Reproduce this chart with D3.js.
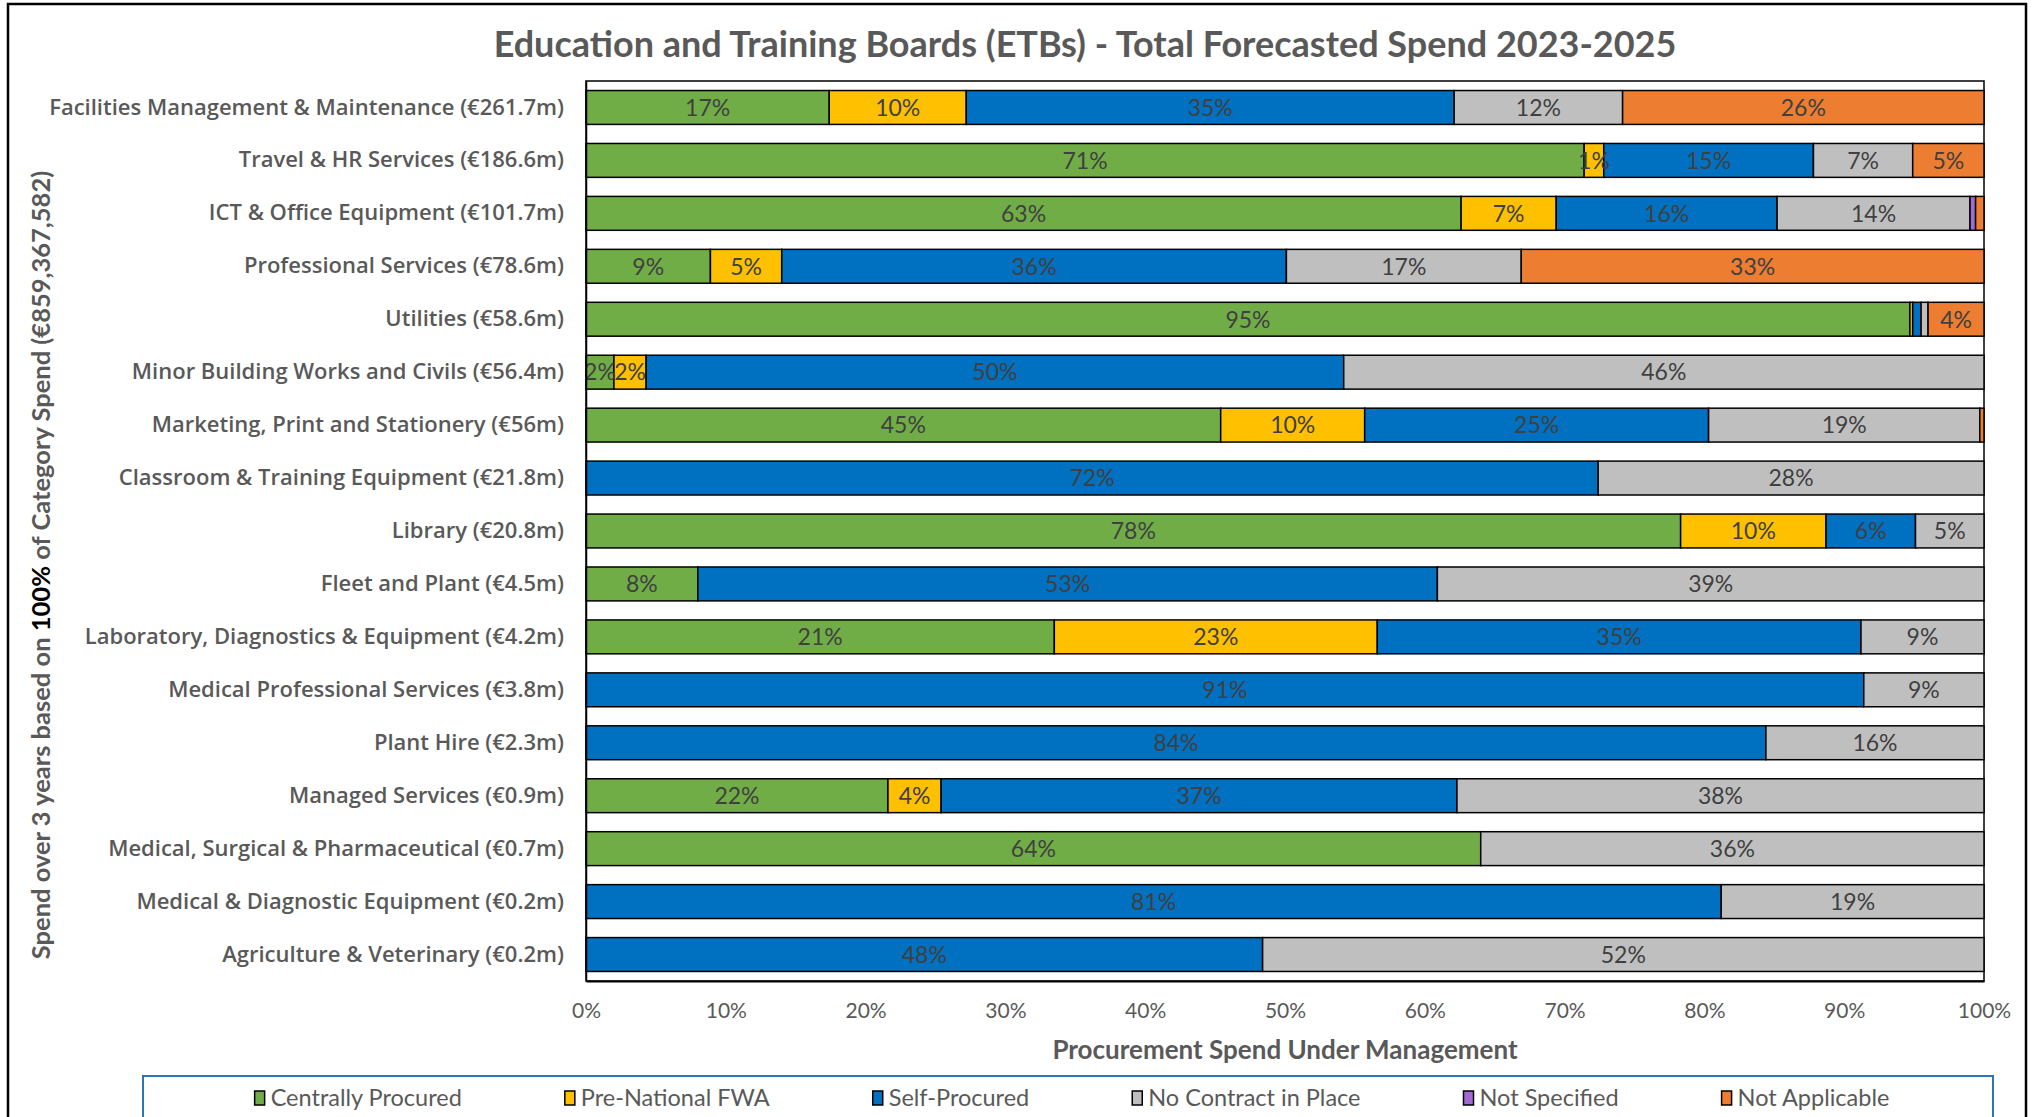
<!DOCTYPE html>
<html><head><meta charset="utf-8">
<script src="https://cdn.jsdelivr.net/npm/d3@7"></script>
<style>body{margin:0;background:#fff} svg{display:block}</style>
</head><body>
<svg id="chart" width="2033" height="1117"></svg>
<script>
// ---------- DATA ----------
const categories = [
  "Facilities Management & Maintenance (€261.7m)",
  "Travel & HR Services (€186.6m)",
  "ICT & Office Equipment (€101.7m)",
  "Professional Services (€78.6m)",
  "Utilities (€58.6m)",
  "Minor Building Works and Civils (€56.4m)",
  "Marketing, Print and Stationery (€56m)",
  "Classroom & Training Equipment (€21.8m)",
  "Library (€20.8m)",
  "Fleet and Plant (€4.5m)",
  "Laboratory, Diagnostics & Equipment (€4.2m)",
  "Medical Professional Services (€3.8m)",
  "Plant Hire (€2.3m)",
  "Managed Services (€0.9m)",
  "Medical, Surgical & Pharmaceutical (€0.7m)",
  "Medical & Diagnostic Equipment (€0.2m)",
  "Agriculture & Veterinary (€0.2m)"
];
const seriesNames = ["Centrally Procured","Pre-National FWA","Self-Procured","No Contract in Place","Not Specified","Not Applicable"];
const centrallyProcured = [17.4, 71.4, 62.6,  8.9, 94.7,  2.0, 45.4,  0.0, 78.3,  8.0, 33.5,  0.0,  0.0, 21.6, 64.0,  0.0,  0.0];
const preNationalFWA    = [ 9.8,  1.4,  6.8,  5.1,  0.2,  2.3, 10.3,  0.0, 10.4,  0.0, 23.1,  0.0,  0.0,  3.8,  0.0,  0.0,  0.0];
const selfProcured      = [34.9, 15.0, 15.8, 36.1,  0.6, 49.9, 24.6, 72.4,  6.4, 52.9, 34.6, 91.4, 84.4, 36.9,  0.0, 81.2, 48.4];
const noContractInPlace = [12.05, 7.1, 13.8, 16.8,  0.5, 45.8, 19.4, 27.6,  4.9, 39.1,  8.8,  8.6, 15.6, 37.7, 36.0, 18.8, 51.6];
const notSpecified      = [ 0.0,  0.0,  0.4,  0.0,  0.0,  0.0,  0.0,  0.0,  0.0,  0.0,  0.0,  0.0,  0.0,  0.0,  0.0,  0.0,  0.0];
const notApplicable     = [25.85, 5.1,  0.6, 33.1,  4.0,  0.0,  0.3,  0.0,  0.0,  0.0,  0.0,  0.0,  0.0,  0.0,  0.0,  0.0,  0.0];
const xTicks = [0,10,20,30,40,50,60,70,80,90,100];
// data label printed in the source that differs from the bar length
const labelOverrides = [{category: "Laboratory, Diagnostics & Equipment (€4.2m)", series: "Centrally Procured", text: "21%"}];

const seriesValues = [centrallyProcured, preNationalFWA, selfProcured, noContractInPlace, notSpecified, notApplicable];
const colors = ["#70AD47","#FFC000","#0070C0","#BFBFBF","#A16BD3","#ED7D31"];

const rows = categories.map((c,i)=>{
  const r = {category:c};
  seriesNames.forEach((s,j)=> r[s] = seriesValues[j][i]);
  return r;
});

// ---------- LAYOUT ----------
const svg = d3.select("#chart");
const plot = {left:586, right:1984, top:81, bottom:981};
const grey = "#595959";
const fontMain = "Lato, 'Open Sans', sans-serif";

// outer chart border
svg.append("rect").attr("x",8).attr("y",4).attr("width",2018).attr("height",1200)
  .attr("fill","#fff").attr("stroke","#000").attr("stroke-width",2.5);

const x = d3.scaleLinear().domain([0,100]).range([plot.left, plot.right]);
const y = d3.scaleBand().domain(categories).range([plot.top, plot.bottom]).paddingInner(0.36).paddingOuter(0.18);

// plot border
svg.append("rect").attr("x",plot.left).attr("y",plot.top).attr("width",plot.right-plot.left).attr("height",plot.bottom-plot.top)
  .attr("fill","none").attr("stroke","#000").attr("stroke-width",1.5);

// title
svg.append("text").attr("x",1085).attr("y",57).attr("text-anchor","middle")
  .attr("font-family",fontMain).attr("font-weight",700).attr("font-size",36).attr("fill",grey)
  .text("Education and Training Boards (ETBs) - Total Forecasted Spend 2023-2025");

// stacked bars
const stack = d3.stack().keys(seriesNames)(rows);
const g = svg.append("g");
stack.forEach((layer,j)=>{
  g.append("g").selectAll("rect").data(layer.filter(d=>d[1]-d[0]>0)).join("rect")
    .attr("x",d=>x(d[0])).attr("y",d=>y(d.data.category))
    .attr("width",d=>x(d[1])-x(d[0])).attr("height",y.bandwidth())
    .attr("fill",colors[j]).attr("stroke","#000").attr("stroke-width",1.5);
});
// data labels
stack.forEach((layer,j)=>{
  g.append("g").selectAll("text").data(layer.filter(d=>d[1]-d[0]>=1)).join("text")
    .attr("x",d=>(x(d[0])+x(d[1]))/2).attr("y",d=>y(d.data.category)+y.bandwidth()/2)
    .attr("dy","0.36em").attr("text-anchor","middle")
    .attr("font-family",fontMain).attr("font-size",23).attr("fill","#404040")
    .text(d=>{
      const o = labelOverrides.find(o=>o.category===d.data.category && o.series===layer.key);
      return o ? o.text : Math.round(d[1]-d[0])+"%";
    });
});

// y axis (category labels)
const yAxis = svg.append("g").attr("transform",`translate(${plot.left},0)`)
  .call(d3.axisLeft(y).tickSize(0).tickPadding(22));
yAxis.select(".domain").attr("stroke","#000").attr("stroke-width",1.5);
yAxis.selectAll("text").attr("font-family","'Open Sans', sans-serif").attr("font-weight",600).attr("font-size",22).attr("fill",grey);

// x axis
const xAxis = svg.append("g").attr("transform",`translate(0,${plot.bottom})`)
  .call(d3.axisBottom(x).tickValues(xTicks).tickFormat(d=>d+"%").tickSize(0).tickPadding(22));
xAxis.select(".domain").attr("stroke","#000").attr("stroke-width",2);
xAxis.selectAll("text").attr("font-family",fontMain).attr("font-size",21).attr("fill",grey);

// axis titles
svg.append("text").attr("x",(plot.left+plot.right)/2).attr("y",1059).attr("text-anchor","middle")
  .attr("font-family",fontMain).attr("font-weight",700).attr("font-size",26).attr("fill",grey)
  .text("Procurement Spend Under Management");

const yt = svg.append("text").attr("transform","translate(50,565) rotate(-90)").attr("text-anchor","middle")
  .attr("font-family",fontMain).attr("font-weight",700).attr("font-size",25.5).attr("fill",grey);
yt.append("tspan").text("Spend over 3 years based on ");
yt.append("tspan").attr("fill","#000").text("100%");
yt.append("tspan").text(" of Category Spend (€859,367,582)");

// legend
svg.append("rect").attr("x",143).attr("y",1076).attr("width",1850).attr("height",80)
  .attr("fill","#fff").attr("stroke","#2E75B6").attr("stroke-width",2);
const lg = svg.append("g");
const items = lg.selectAll("g").data(seriesNames).join("g");
items.append("rect").attr("x",0).attr("y",-7).attr("width",10).attr("height",14)
  .attr("fill",(d,i)=>colors[i]).attr("stroke","#000").attr("stroke-width",1.5);
items.append("text").attr("x",16).attr("y",0).attr("dy","0.36em")
  .attr("font-family",fontMain).attr("font-size",23.5).attr("fill",grey).text(d=>d);
const widths = [];
items.each(function(){ widths.push(16 + this.querySelector("text").getComputedTextLength()); });
const gap = 103;
const total = d3.sum(widths) + gap*(widths.length-1);
let cx = 1072 - total/2;
items.each(function(d,i){ d3.select(this).attr("transform",`translate(${cx},1098)`); cx += widths[i] + gap; });
</script>
</body></html>
